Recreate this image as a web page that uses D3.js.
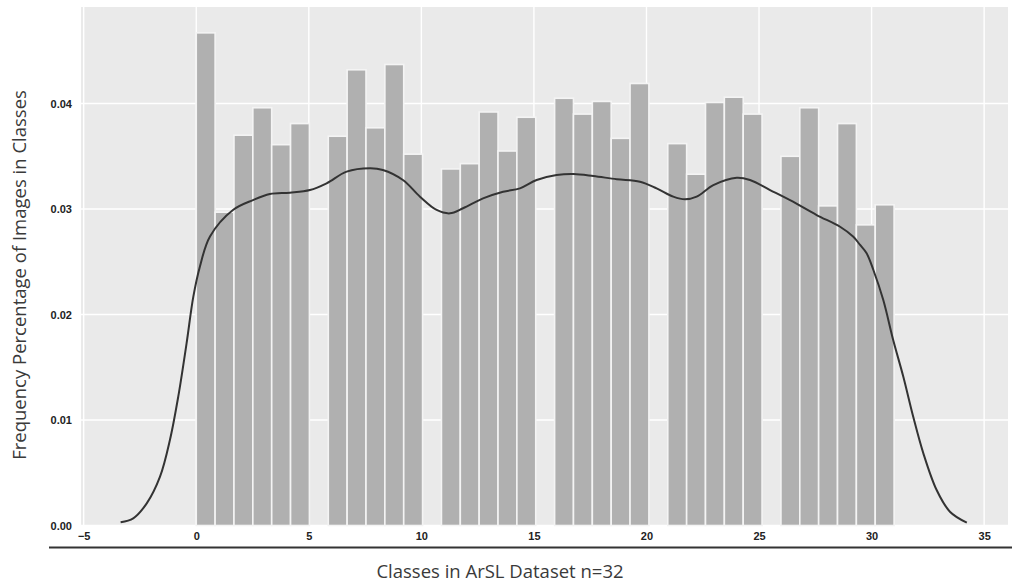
<!DOCTYPE html>
<html>
<head>
<meta charset="utf-8">
<script src="https://cdn.jsdelivr.net/npm/d3@7"></script>
<style>
  html, body { margin: 0; padding: 0; background: #ffffff; }
  svg { display: block; }
</style>
</head>
<body>
<svg id="chart" width="1012" height="583"></svg>
<script>
// ---- data ----
const classes = d3.range(0, 32); // class ids 0..31
const density = [
  0.0467, 0.0297, 0.0370, 0.0396, 0.0361, 0.0381,
  0.0369, 0.0432, 0.0377, 0.0437, 0.0352,
  0.0338, 0.0343, 0.0392, 0.0355, 0.0387,
  0.0405, 0.0390, 0.0402, 0.0367, 0.0419,
  0.0362, 0.0333, 0.0401, 0.0406, 0.0390,
  0.0350, 0.0396, 0.0303, 0.0381, 0.0285, 0.0304
];
const kdeX = [-3.36, -2.80, -2.20, -1.61, -1.17, -0.80, -0.43, -0.13, 0.16, 0.61,
  1.63, 2.52, 3.27, 4.16, 5.05, 5.79, 6.68, 7.72, 8.29, 9.18, 9.94, 10.68, 11.27,
  11.85, 12.74, 13.63, 14.38, 15.12, 16.01, 16.75, 17.64, 18.68, 19.71, 20.45, 21.19,
  21.71, 22.23, 22.97, 24.01, 24.60, 25.49, 26.51, 27.56, 28.60, 29.19, 29.49, 29.78,
  30.08, 30.52, 30.96, 31.41, 31.85, 32.30, 32.89, 33.48, 34.23];
const kdeY = [0.0003, 0.00068, 0.0021, 0.00463, 0.0081, 0.01221, 0.01727, 0.02169, 0.02453, 0.0274,
  0.02991, 0.03085, 0.03142, 0.03155, 0.0318, 0.03244, 0.03354, 0.03386, 0.0337, 0.03275, 0.03117, 0.02991, 0.02959,
  0.03007, 0.03101, 0.03164, 0.03196, 0.03275, 0.03322, 0.03332, 0.03313, 0.03282, 0.03259, 0.03196, 0.03117,
  0.03092, 0.03117, 0.03227, 0.03297, 0.03275, 0.0318, 0.03069, 0.02943, 0.02832, 0.02737, 0.02659, 0.0258,
  0.02422, 0.02137, 0.01758, 0.0141, 0.01031, 0.00684, 0.00336, 0.00131, 0.00027];
const xTicks = [-5, 0, 5, 10, 15, 20, 25, 30, 35];
const yTicks = [0.00, 0.01, 0.02, 0.03, 0.04];
const xTitle = "Classes in ArSL Dataset n=32";
const yTitle = "Frequency Percentage of Images in Classes";
const nBins = 37, dataMin = 0, dataMax = 31;

// ---- layout ----
const svg = d3.select("#chart");
const L = 81, R = 1008, T = 7, B = 525.5;
const x = d3.scaleLinear().domain([-5.12, 36.06]).range([L, R]);
const y = d3.scaleLinear().domain([0, 0.04915]).range([B, T]);

svg.append("rect").attr("x", 0).attr("y", 0).attr("width", 1012).attr("height", 583).attr("fill", "#ffffff");
svg.append("rect").attr("x", L).attr("y", T).attr("width", R - L).attr("height", B - T).attr("fill", "#eaeaea");

// grid
const grid = svg.append("g");
grid.selectAll("line.gx").data(xTicks).join("line")
  .attr("x1", d => x(d)).attr("x2", d => x(d)).attr("y1", T).attr("y2", B)
  .attr("stroke", "#ffffff").attr("stroke-width", 1.4);
grid.selectAll("line.gy").data(yTicks).join("line")
  .attr("x1", L).attr("x2", R).attr("y1", d => y(d)).attr("y2", d => y(d))
  .attr("stroke", "#ffffff").attr("stroke-width", 1.4);

// bars
const bw = (dataMax - dataMin) / nBins;
const binIndex = c => Math.min(nBins - 1, Math.floor((c - dataMin) / bw + 1e-9));
svg.append("g").selectAll("rect").data(classes).join("rect")
  .attr("x", c => x(dataMin + binIndex(c) * bw))
  .attr("width", c => x(dataMin + (binIndex(c) + 1) * bw) - x(dataMin + binIndex(c) * bw))
  .attr("y", (c, i) => y(density[i]))
  .attr("height", (c, i) => B - y(density[i]))
  .attr("fill", "#b0b0b0")
  .attr("stroke", "#f4f4f4").attr("stroke-width", 1.6);

// kde
const line = d3.line().x((d, i) => x(kdeX[i])).y((d, i) => y(kdeY[i])).curve(d3.curveCatmullRom.alpha(0.5));
svg.append("path").datum(kdeX).attr("d", line)
  .attr("fill", "none").attr("stroke", "#333333").attr("stroke-width", 2);

// axes (tick labels only, as seaborn darkgrid)
const xAxis = d3.axisBottom(x).tickValues(xTicks).tickSize(0).tickPadding(7).tickFormat(d3.format("d"));
const gx = svg.append("g").attr("transform", `translate(0,${B})`).call(xAxis);
gx.select(".domain").remove();
gx.selectAll("text").attr("font-family", "'Liberation Sans', Arial, sans-serif").attr("font-size", 11)
  .attr("fill", "#222").attr("font-weight", "bold");

const yAxis = d3.axisLeft(y).tickValues(yTicks).tickSize(0).tickPadding(9).tickFormat(d3.format(".2f"));
const gy = svg.append("g").attr("transform", `translate(${L},0)`).call(yAxis);
gy.select(".domain").remove();
gy.selectAll("text").attr("font-family", "'Liberation Sans', Arial, sans-serif").attr("font-size", 11)
  .attr("fill", "#222").attr("font-weight", "bold");

// baseline rule under axis
svg.append("line").attr("x1", 49).attr("x2", 1012).attr("y1", 547.5).attr("y2", 547.5)
  .attr("stroke", "#333").attr("stroke-width", 2);

// titles
svg.append("text").attr("x", 500).attr("y", 578).attr("text-anchor", "middle")
  .attr("font-family", "'Open Sans', sans-serif").attr("font-size", 18.5).attr("fill", "#3a3a3a")
  .text(xTitle);
svg.append("text").attr("transform", "translate(26,275) rotate(-90)").attr("text-anchor", "middle")
  .attr("font-family", "'Open Sans', sans-serif").attr("font-size", 18.5).attr("fill", "#3a3a3a")
  .text(yTitle);
</script>
</body>
</html>
